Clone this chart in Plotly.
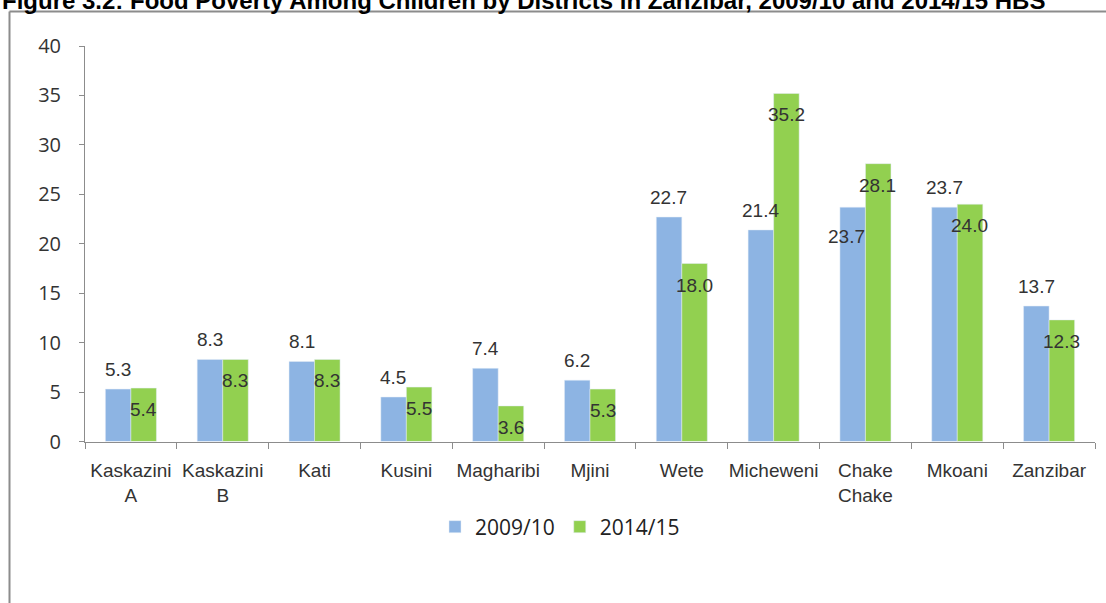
import plotly.graph_objects as go

districts = ["Kaskazini<br>A", "Kaskazini<br>B", "Kati", "Kusini", "Magharibi", "Mjini",
             "Wete", "Micheweni", "Chake<br>Chake", "Mkoani", "Zanzibar"]
y2009 = [5.3, 8.3, 8.1, 4.5, 7.4, 6.2, 22.7, 21.4, 23.7, 23.7, 13.7]
y2014 = [5.4, 8.3, 8.3, 5.5, 3.6, 5.3, 18.0, 35.2, 28.1, 24.0, 12.3]
series_names = ["2009/10", "2014/15"]
y_ticks = [0, 5, 10, 15, 20, 25, 30, 35, 40]
title_text = "Figure 3.2: Food Poverty Among Children by Districts in Zanzibar, 2009/10 and 2014/15 HBS"

BLUE = "#8DB4E3"
GREEN = "#92D050"
W, H = 1106, 603

fig = go.Figure()
fig.add_trace(go.Bar(x=districts, y=y2009, name=series_names[0], marker_color=BLUE))
fig.add_trace(go.Bar(x=districts, y=y2014, name=series_names[1], marker_color=GREEN))

label_font = dict(family="Liberation Sans, Arial, sans-serif", size=19, color="#333333")
ann = []
for i, cat in enumerate(districts):
    # blue label: above bar (Chake Chake sits inside, shifted left)
    if i == 8:
        bx, by = -18.5, -29.5
    else:
        bx, by = -13, 19.5
    ann.append(dict(x=cat, y=y2009[i], xref="x", yref="y", text=f"{y2009[i]:.1f}",
                    showarrow=False, xshift=bx, yshift=by, yanchor="middle",
                    xanchor="center", font=label_font))
    ann.append(dict(x=cat, y=y2014[i], xref="x", yref="y", text=f"{y2014[i]:.1f}",
                    showarrow=False, xshift=12.5, yshift=-21.5, yanchor="middle",
                    xanchor="center", font=label_font))

# cut-off title at the very top
ann.append(dict(x=0.0, y=1 - 0.5 / H, xref="paper", yref="paper", text="<b>" + title_text + "</b>",
                showarrow=False, xanchor="left", yanchor="middle",
                font=dict(family="Liberation Sans, Arial, sans-serif", size=24, color="#000000")))

shapes = [
    dict(type="line", xref="paper", yref="paper", x0=9.5 / W, x1=1.02, y0=1 - 11.5 / H, y1=1 - 11.5 / H,
         line=dict(color="#8C8C8C", width=2)),
    dict(type="line", xref="paper", yref="paper", x0=9.5 / W, x1=9.5 / W, y0=-0.02, y1=1 - 11.5 / H,
         line=dict(color="#8C8C8C", width=2)),
]

fig.update_layout(
    width=W, height=H,
    margin=dict(l=0, r=0, t=0, b=0, autoexpand=False),
    paper_bgcolor="white", plot_bgcolor="white",
    barmode="group", bargap=0.444, bargroupgap=0,
    annotations=ann, shapes=shapes,
    showlegend=True,
    legend=dict(orientation="h", x=560 / W, xanchor="center", y=1 - 527 / H, yanchor="middle",
                font=dict(family="Open Sans, sans-serif", size=21, color="#222222"),
                traceorder="normal"),
)
fig.update_xaxes(
    domain=[85 / W, 1095 / W], automargin=False,
    showline=True, linecolor="#8C8C8C", linewidth=1,
    ticks="outside", tickson="boundaries", ticklen=6, tickcolor="#8C8C8C",
    tickfont=dict(family="Liberation Sans, Arial, sans-serif", size=19, color="#333333"),
    ticklabelstandoff=12,
    showgrid=False, tickangle=0,
)
fig.update_yaxes(
    domain=[1 - 441.5 / H, 1 - 46 / H], automargin=False,
    range=[0, 40], tickvals=y_ticks,
    showline=True, linecolor="#8C8C8C", linewidth=1,
    ticks="outside", ticklen=5, tickcolor="#8C8C8C",
    tickfont=dict(family="Open Sans, sans-serif", size=20, color="#333333"),
    ticklabelstandoff=14,
    showgrid=False, zeroline=False,
)

fig.write_html("out.html", config={"displayModeBar": False},
               post_script="document.body.style.margin='0';")
